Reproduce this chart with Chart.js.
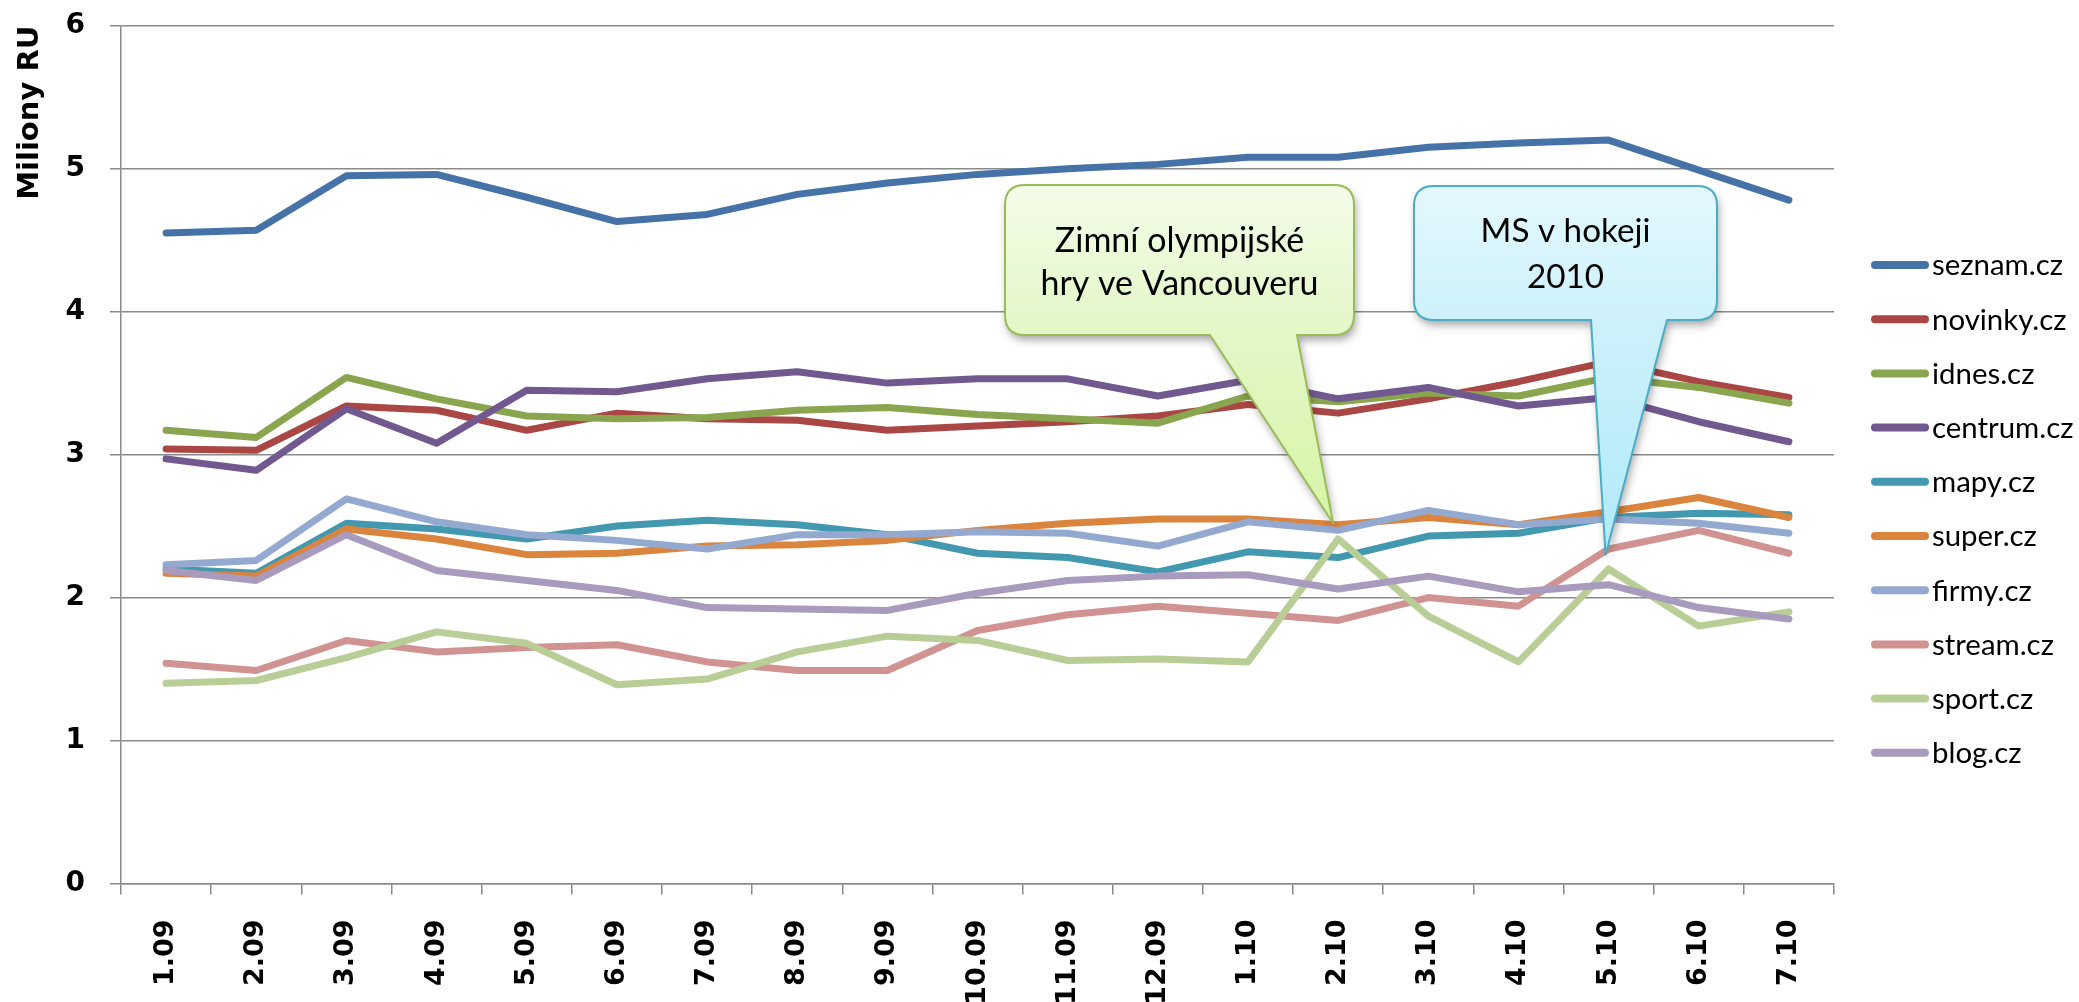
<!DOCTYPE html>
<html>
<head>
<meta charset="utf-8">
<script src="https://cdn.jsdelivr.net/npm/chart.js@4.4.1/dist/chart.umd.min.js"></script>
<style>
html,body{margin:0;padding:0;background:#ffffff;}
#wrap{width:2079px;height:1002px;position:relative;}
</style>
</head>
<body>
<div id="wrap"><canvas id="c"></canvas></div>
<script>
// ---- data ----
const categories = ['1.09','2.09','3.09','4.09','5.09','6.09','7.09','8.09','9.09','10.09','11.09','12.09','1.10','2.10','3.10','4.10','5.10','6.10','7.10'];
const seznam  = [4.55,4.57,4.95,4.96,4.80,4.63,4.68,4.82,4.90,4.96,5.00,5.03,5.08,5.08,5.15,5.18,5.20,4.99,4.78];
const novinky = [3.04,3.03,3.34,3.31,3.17,3.29,3.25,3.24,3.17,3.20,3.23,3.27,3.35,3.29,3.39,3.51,3.65,3.51,3.40];
const idnes   = [3.17,3.12,3.54,3.39,3.27,3.25,3.26,3.31,3.33,3.28,3.25,3.22,3.41,3.37,3.43,3.41,3.54,3.47,3.36];
const centrum = [2.97,2.89,3.32,3.08,3.45,3.44,3.53,3.58,3.50,3.53,3.53,3.41,3.52,3.39,3.47,3.34,3.40,3.23,3.09];
const mapy    = [2.20,2.17,2.52,2.48,2.41,2.50,2.54,2.51,2.44,2.31,2.28,2.18,2.32,2.28,2.43,2.45,2.56,2.59,2.58];
const superCz = [2.17,2.15,2.48,2.41,2.30,2.31,2.36,2.37,2.40,2.47,2.52,2.55,2.55,2.51,2.56,2.51,2.60,2.70,2.56];
const firmy   = [2.23,2.26,2.69,2.53,2.44,2.40,2.34,2.44,2.44,2.46,2.45,2.36,2.53,2.47,2.61,2.51,2.55,2.52,2.45];
const stream  = [1.54,1.49,1.70,1.62,1.65,1.67,1.55,1.49,1.49,1.77,1.88,1.94,1.89,1.84,2.00,1.94,2.34,2.47,2.31];
const sport   = [1.40,1.42,1.58,1.76,1.68,1.39,1.43,1.62,1.73,1.70,1.56,1.57,1.55,2.41,1.87,1.55,2.20,1.80,1.90];
const blog    = [2.19,2.12,2.44,2.19,2.12,2.05,1.93,1.92,1.91,2.03,2.12,2.15,2.16,2.06,2.15,2.04,2.09,1.93,1.85];

const seriesNames  = ['seznam.cz','novinky.cz','idnes.cz','centrum.cz','mapy.cz','super.cz','firmy.cz','stream.cz','sport.cz','blog.cz'];
const seriesValues = [seznam, novinky, idnes, centrum, mapy, superCz, firmy, stream, sport, blog];
const seriesColors = ['#4572A7','#AA4643','#89A54E','#71588F','#4198AF','#DB843D','#93A9CF','#D19392','#B9CD96','#A99BBD'];

const yAxisTitle = 'Miliony RU';
const yMin = 0, yMax = 6, yStep = 1;

const calloutTexts      = [['Zimní olympijské','hry ve Vancouveru'], ['MS v hokeji','2010']];
const calloutCategories = ['2.10', '5.10'];
const calloutValues     = [2.52, 2.30];

// ---- styles / layout (not data) ----
const calloutStyles = [
  {x:1005, y:185, w:349, h:150, r:20, baseL:1210, baseR:1297, dx:-5, fitLine:1, fitWidth:278,
   top:'#F3FCE8', mid:'#E3F7C7', tip:'#D6F4A6', border:'#9BBB59', lines:[252,295]},
  {x:1414, y:186, w:303, h:134, r:20, baseL:1591, baseR:1667, dx:-3, fitLine:0, fitWidth:170,
   top:'#E4F8FD', mid:'#CDF1FB', tip:'#B0E9F9', border:'#4BACC6', lines:[242,288]}
];
const textFamily = 'Lato, "Open Sans", sans-serif';

function fitSize(ctx, text, target) {
  ctx.save();
  ctx.font = '100px ' + textFamily;
  const w = ctx.measureText(text).width;
  ctx.restore();
  return 100 * target / w;
}

const datasets = seriesNames.map((name, i) => ({
  label: name,
  data: seriesValues[i],
  borderColor: seriesColors[i],
  backgroundColor: seriesColors[i],
  borderWidth: 7,
  pointRadius: 0,
  pointHoverRadius: 0,
  tension: 0,
  fill: false,
  borderJoinStyle: 'round',
  borderCapStyle: 'round',
  order: seriesNames.length - i
}));

const sideLegend = {
  id: 'sideLegend',
  afterDraw(chart) {
    const ctx = chart.ctx;
    const size = fitSize(ctx, 'seznam.cz', 131);
    ctx.save();
    ctx.font = size.toFixed(2) + 'px ' + textFamily;
    ctx.textBaseline = 'middle';
    ctx.textAlign = 'left';
    chart.data.datasets.forEach((ds, i) => {
      const y = 265 + i * 54.2;
      ctx.strokeStyle = ds.borderColor;
      ctx.lineWidth = 8;
      ctx.lineCap = 'round';
      ctx.beginPath();
      ctx.moveTo(1875, y);
      ctx.lineTo(1925, y);
      ctx.stroke();
      ctx.fillStyle = '#000';
      ctx.fillText(ds.label, 1932, y + 1);
    });
    ctx.restore();
  }
};

const callouts = {
  id: 'callouts',
  afterDraw(chart) {
    const ctx = chart.ctx;
    const xs = chart.scales.x, ys = chart.scales.y;
    calloutTexts.forEach((lines, k) => {
      const s = calloutStyles[k];
      const tipX = xs.getPixelForValue(categories.indexOf(calloutCategories[k])) + s.dx;
      const tipY = ys.getPixelForValue(calloutValues[k]);
      const x = s.x, y = s.y, w = s.w, h = s.h, r = s.r, b = y + h;
      const path = () => {
        ctx.beginPath();
        ctx.moveTo(x + r, y);
        ctx.lineTo(x + w - r, y);
        ctx.quadraticCurveTo(x + w, y, x + w, y + r);
        ctx.lineTo(x + w, b - r);
        ctx.quadraticCurveTo(x + w, b, x + w - r, b);
        ctx.lineTo(s.baseR, b);
        ctx.lineTo(tipX, tipY);
        ctx.lineTo(s.baseL, b);
        ctx.lineTo(x + r, b);
        ctx.quadraticCurveTo(x, b, x, b - r);
        ctx.lineTo(x, y + r);
        ctx.quadraticCurveTo(x, y, x + r, y);
        ctx.closePath();
      };
      const g = ctx.createLinearGradient(0, y, 0, tipY);
      const tm = (b - y) / (tipY - y);
      g.addColorStop(0, s.top);
      g.addColorStop(tm, s.mid);
      g.addColorStop(1, s.tip);
      ctx.save();
      ctx.shadowColor = 'rgba(0,0,0,0.35)';
      ctx.shadowBlur = 9;
      ctx.shadowOffsetX = 2;
      ctx.shadowOffsetY = 5;
      path();
      ctx.fillStyle = g;
      ctx.fill();
      ctx.restore();
      ctx.save();
      path();
      ctx.strokeStyle = s.border;
      ctx.lineWidth = 2;
      ctx.lineJoin = 'round';
      ctx.stroke();
      const size = fitSize(ctx, lines[s.fitLine], s.fitWidth);
      ctx.fillStyle = '#000';
      ctx.font = size.toFixed(2) + 'px ' + textFamily;
      ctx.textAlign = 'center';
      ctx.textBaseline = 'alphabetic';
      lines.forEach((t, j) => ctx.fillText(t, x + w / 2, s.lines[j]));
      ctx.restore();
    });
  }
};

new Chart(document.getElementById('c'), {
  type: 'line',
  data: { labels: categories, datasets },
  options: {
    responsive: true,
    maintainAspectRatio: false,
    animation: false,
    events: [],
    layout: { padding: { top: 25.7, right: 245, left: 0, bottom: 0 } },
    plugins: { legend: { display: false }, tooltip: { enabled: false } },
    scales: {
      x: {
        type: 'category',
        offset: true,
        grid: { display: true, drawOnChartArea: false, drawTicks: true, tickLength: 11, offset: true, color: '#8a8a8a', lineWidth: 1.5 },
        border: { display: true, color: '#8a8a8a', width: 1.5 },
        ticks: {
          autoSkip: false, minRotation: 90, maxRotation: 90, padding: 25,
          color: '#000', font: { family: '"DejaVu Sans"', weight: 'bold', size: 27 }
        },
        afterFit(scale) { scale.height = 118.5; scale.paddingLeft = 0; scale.paddingRight = 0; }
      },
      y: {
        min: yMin, max: yMax,
        grid: { color: '#8a8a8a', lineWidth: 1.5, drawTicks: true, tickLength: 11 },
        border: { display: true, color: '#8a8a8a', width: 1.5 },
        ticks: {
          stepSize: yStep, padding: 25, color: '#000',
          font: { family: '"DejaVu Sans"', weight: 'bold', size: 28 }
        },
        title: {
          display: true, text: yAxisTitle, align: 'end', color: '#000',
          padding: { top: 13, bottom: 0 },
          font: { family: '"DejaVu Sans"', weight: 'bold', size: 29 }
        },
        afterFit(scale) { scale.width = 121; scale.paddingTop = 0; scale.paddingBottom = 0; }
      }
    }
  },
  plugins: [sideLegend, callouts]
});
</script>
</body>
</html>
